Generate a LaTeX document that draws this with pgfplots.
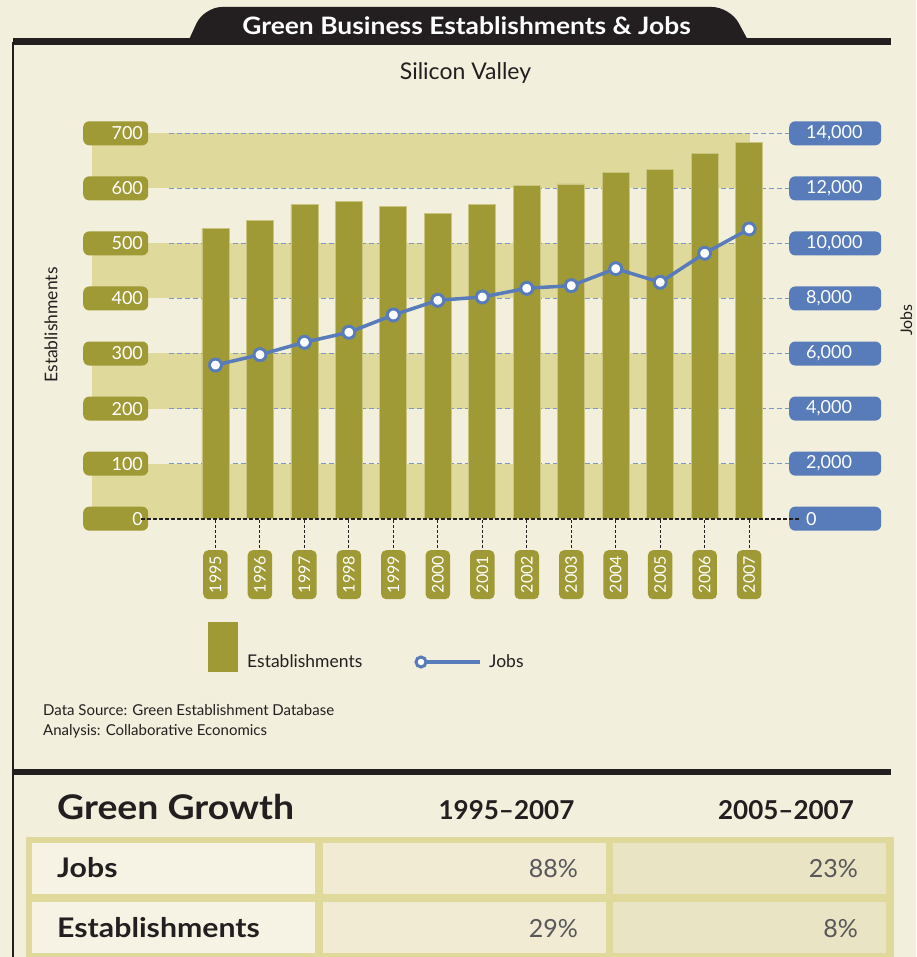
\documentclass[border=0pt]{standalone}
\usepackage{pgfplots}
\pgfplotsset{compat=1.18}
\usepackage{pgfplotstable}
\usepackage{fontspec}
\setmainfont{Lato}

\definecolor{bg}{HTML}{F2EFDC}
\definecolor{band}{HTML}{DFD99C}
\definecolor{olivebar}{HTML}{A09A36}
\definecolor{barline}{HTML}{C9C47E}
\definecolor{jobblue}{HTML}{587CBA}
\definecolor{gridblue}{HTML}{7E97C4}
\definecolor{ink}{HTML}{231F20}
\definecolor{cellA}{HTML}{F6F3E4}
\definecolor{cellB}{HTML}{F0EBD2}
\definecolor{cellC}{HTML}{E9E4C3}
\definecolor{valgray}{HTML}{58585A}

% establishments (left axis) and jobs (right axis), Silicon Valley
\pgfplotstableread{
year est jobs
1995 527 5580
1996 542 5958
1997 570 6408
1998 577 6771
1999 567 7400
2000 555 7933
2001 570 8053
2002 606 8369
2003 608 8465
2004 629 9082
2005 634 8587
2006 663 9641
2007 684 10524
}\greendata

\newcommand{\fs}[1]{\fontsize{#1}{#1}\selectfont}

\begin{document}
\begin{tikzpicture}[x=1pt,y=1pt]
\useasboundingbox (0,0) rectangle (916,957);
\fill[bg] (0,0) rectangle (916,957);

% background bands and grid (image coordinates, y down)
\begin{scope}[shift={(0,957)},yscale=-1]
  \foreach \a/\b in {518.7/463.6, 408.6/353.5, 298.5/243.4, 188.3/133.3}
    \fill[band] (92,\a) rectangle (750,\b);
  \foreach \g in {463.6,408.6,353.5,298.5,243.4,188.3,133.3}
    \draw[gridblue, line width=1.2pt, dash pattern=on 5pt off 3pt] (169,\g) -- (789,\g);
\end{scope}

\begin{axis}[
    at={(92pt,438.3pt)}, anchor=south west,
    scale only axis, width=698pt, height=385.4pt,
    xmin=1992.223, xmax=2007.919,
    ymin=0, ymax=700,
    axis line style={draw=none},
    tick style={draw=none}, major tick length=0pt,
    xtick pos=left, ytick pos=left,
    xtick={1995,1996,1997,1998,1999,2000,2001,2002,2003,2004,2005,2006,2007},
    xticklabels={1995,1996,1997,1998,1999,2000,2001,2002,2003,2004,2005,2006,2007},
    ytick={0,100,200,300,400,500,600,700},
    yticklabels={0,100,200,300,400,500,600,700},
    xticklabel style={yshift=-31.3pt, rotate=90, anchor=east, fill=olivebar,
      text=white, rounded corners=5pt, inner sep=0pt, minimum width=49pt,
      minimum height=24.5pt, font=\fs{16}},
    yticklabel style={xshift=-9pt, anchor=west, fill=olivebar, text=white,
      rounded corners=6pt, inner xsep=5.3pt, inner ysep=0pt, text width=54.4pt,
      align=right, minimum height=24pt, font=\fs{18}},
    clip=false,
  ]
  \addplot[ybar, bar width=27pt, fill=olivebar, draw=barline, line width=0.8pt]
    table[x=year, y=est] {\greendata};
\end{axis}

\begin{axis}[
    at={(92pt,438.3pt)}, anchor=south west,
    scale only axis, width=698pt, height=385.4pt,
    xmin=1992.223, xmax=2007.919,
    ymin=0, ymax=14000,
    scaled y ticks=false,
    axis line style={draw=none},
    tick style={draw=none}, major tick length=0pt,
    xtick=\empty, ytick pos=right,
    ytick={0,2000,4000,6000,8000,10000,12000,14000},
    yticklabels={0,{2,000},{4,000},{6,000},{8,000},{10,000},{12,000},{14,000}},
    yticklabel style={xshift=-1pt, anchor=west, fill=jobblue, text=white,
      rounded corners=6pt, inner xsep=17pt, inner ysep=0pt, text width=58pt,
      align=left, minimum height=24pt, font=\fs{18}},
    clip=false,
  ]
  \addplot[jobblue, line width=3.5pt, mark=*, mark size=6pt,
    mark options={fill=white, draw=jobblue, line width=3pt}]
    table[x=year, y=jobs] {\greendata};
\end{axis}

\begin{scope}[shift={(0,957)},yscale=-1]
  % zero line and year ticks
  \draw[ink, line width=2pt, dash pattern=on 4pt off 2pt] (141,518.7) -- (800,518.7);
  \foreach \i in {0,...,12}
    \draw[ink, line width=1pt, dash pattern=on 3pt off 2pt]
      ({215.5+44.47*\i},520) -- ({215.5+44.47*\i},550);

  % header tab
  \fill[ink] (187,44) [rounded corners=18pt] -- (204,7) -- (730,7) [sharp corners] -- (750,44) -- cycle;
  \draw[ink, line width=7pt] (13,42) -- (891,42);
  \draw[ink, line width=1.5pt] (13,42) -- (13,957);
  \node[anchor=base, text=white, font=\bfseries\fs{24}] at (466.5,34.5) {\scalebox{1.1}[1]{Green Business Establishments \& Jobs}};
  \node[anchor=base, text=ink, font=\fs{23}] at (465.5,79.3) {Silicon Valley};

  % axis titles
  \node[rotate=90, text=ink, font=\fs{17.5}] at (51,325) {Establishments};
  \node[rotate=90, anchor=base, text=ink, font=\fs{16}] at (912,320) {Jobs};

  % legend
  \fill[olivebar] (208,622) rectangle (238,672);
  \node[anchor=base west, text=ink, font=\fs{17.5}, inner sep=0pt] at (247,668) {Establishments};
  \draw[jobblue, line width=3.5pt] (421,662) -- (480,662);
  \draw[jobblue, fill=white, line width=3pt] (421,662) circle (5pt);
  \node[anchor=base west, text=ink, font=\fs{17.5}, inner sep=0pt] at (489,668) {Jobs};

  % sources
  \node[anchor=base west, text=ink, font=\fs{15}, inner sep=0pt] at (43,716) {Data Source: Green Establishment Database};
  \node[anchor=base west, text=ink, font=\fs{15}, inner sep=0pt] at (43,736) {Analysis: Collaborative Economics};

  % growth table
  \draw[ink, line width=6pt] (13,772) -- (891,772);
  \node[anchor=base west, text=ink, font=\bfseries\fs{34}, inner sep=0pt] at (57,820) {\scalebox{1.1}[1]{Green Growth}};
  \node[anchor=base, text=ink, font=\bfseries\fs{26}] at (506.5,820) {1995–2007};
  \node[anchor=base, text=ink, font=\bfseries\fs{26}] at (786,820) {2005–2007};
  \fill[band] (26,837) rectangle (894,960);
  \fill[cellA] (32,843) rectangle (315,894);
  \fill[cellB] (323,843) rectangle (606,894);
  \fill[cellC] (613,843) rectangle (886,894);
  \fill[cellA] (32,902) rectangle (315,953);
  \fill[cellB] (323,902) rectangle (606,953);
  \fill[cellC] (613,902) rectangle (886,953);
  \node[anchor=base west, text=ink, font=\bfseries\fs{27}, inner sep=0pt] at (57,878) {\scalebox{1.12}[1]{Jobs}};
  \node[anchor=base west, text=ink, font=\bfseries\fs{27}, inner sep=0pt] at (57,938) {\scalebox{1.12}[1]{Establishments}};
  \node[anchor=base east, text=valgray, font=\fs{25}, inner sep=0pt] at (578,878) {88\%};
  \node[anchor=base east, text=valgray, font=\fs{25}, inner sep=0pt] at (858,878) {23\%};
  \node[anchor=base east, text=valgray, font=\fs{25}, inner sep=0pt] at (578,938) {29\%};
  \node[anchor=base east, text=valgray, font=\fs{25}, inner sep=0pt] at (858,938) {8\%};
\end{scope}
\end{tikzpicture}
\end{document}
